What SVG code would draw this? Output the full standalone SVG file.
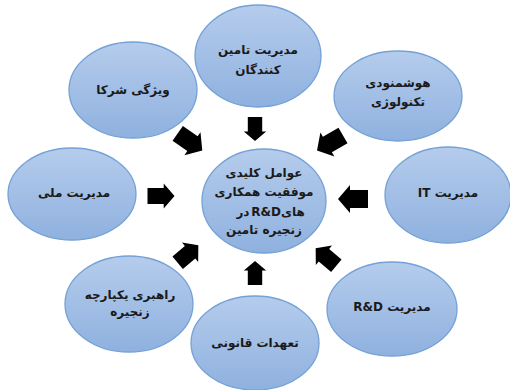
<svg xmlns="http://www.w3.org/2000/svg" xmlns:xlink="http://www.w3.org/1999/xlink" width="510" height="390" viewBox="0 0 510 390">
<defs>
<linearGradient id="g" x1="0" y1="0" x2="0" y2="1">
<stop offset="0" stop-color="#b5ccec"/>
<stop offset="1" stop-color="#8fb1df"/>
</linearGradient>
<path id="arr" d="M-15,-9 L3,-9 L3,-14 L15,0 L3,14 L3,9 L-15,9 Z"/>
</defs>
<style>
.n ellipse{fill:url(#g);stroke:#74a1d6;stroke-width:1.3}
.n text{font-family:"DejaVu Sans",sans-serif;font-size:12px;font-weight:bold;fill:#1a1a1a;text-anchor:middle}
.c use{fill:#000}
</style>
<rect width="510" height="390" fill="#fff"/>
<g id="top" class="n"><ellipse cx="258" cy="56" rx="63" ry="51"/><text x="258" y="54" direction="rtl">مدیریت تامین</text><text x="258" y="74" direction="rtl">کنندگان</text></g>
<g id="topleft" class="n"><ellipse cx="133" cy="90" rx="64" ry="48"/><text x="133" y="94" direction="rtl">ویژگی شرکا</text></g>
<g id="topright" class="n"><ellipse cx="398" cy="96" rx="64" ry="45"/><text x="398" y="87" direction="rtl">هوشمنودی</text><text x="398" y="106" direction="rtl">تکنولوژی</text></g>
<g id="right" class="n"><ellipse cx="448" cy="195" rx="63" ry="48"/><text x="448" y="197" direction="rtl">مدیریت IT</text></g>
<g id="left" class="n"><ellipse cx="72" cy="194" rx="64" ry="46"/><text x="74" y="197" direction="rtl">مدیریت ملی</text></g>
<g id="bottomleft" class="n"><ellipse cx="129" cy="304" rx="64" ry="48"/><text x="130" y="299" direction="rtl">راهبری یکپارچه</text><text x="130" y="316" direction="rtl">زنجیره</text></g>
<g id="bottom" class="n"><ellipse cx="255" cy="343" rx="64" ry="47"/><text x="255" y="347" direction="rtl">تعهدات قانونی</text></g>
<g id="bottomright" class="n"><ellipse cx="392" cy="309" rx="65" ry="47"/><text x="392" y="311" direction="rtl">مدیریت R&amp;D</text></g>
<g id="center" class="n"><ellipse cx="264" cy="201" rx="62" ry="52"/><text x="264" y="177" direction="rtl">عوامل کلیدی</text><text x="264" y="196" direction="rtl">موفقیت همکاری</text><text x="243" y="216">در</text><text x="281" y="216" style="text-anchor:end">R&amp;D</text><text x="281" y="216" style="text-anchor:start">های</text><text x="264" y="234" direction="rtl">زنجیره تامین</text></g>
<g id="connectors" class="c">
<use xlink:href="#arr" transform="translate(190,142) rotate(35)"/>
<use xlink:href="#arr" transform="translate(255,129) rotate(90) scale(0.8)"/>
<use xlink:href="#arr" transform="translate(330,143) rotate(150)"/>
<use xlink:href="#arr" transform="translate(161,196) scale(0.9)"/>
<use xlink:href="#arr" transform="translate(353,199) rotate(180)"/>
<use xlink:href="#arr" transform="translate(188,254) rotate(-40) scale(0.9)"/>
<use xlink:href="#arr" transform="translate(255,273) rotate(-90) scale(0.8)"/>
<use xlink:href="#arr" transform="translate(326,257) rotate(-140) scale(0.9)"/>
</g>
</svg>
